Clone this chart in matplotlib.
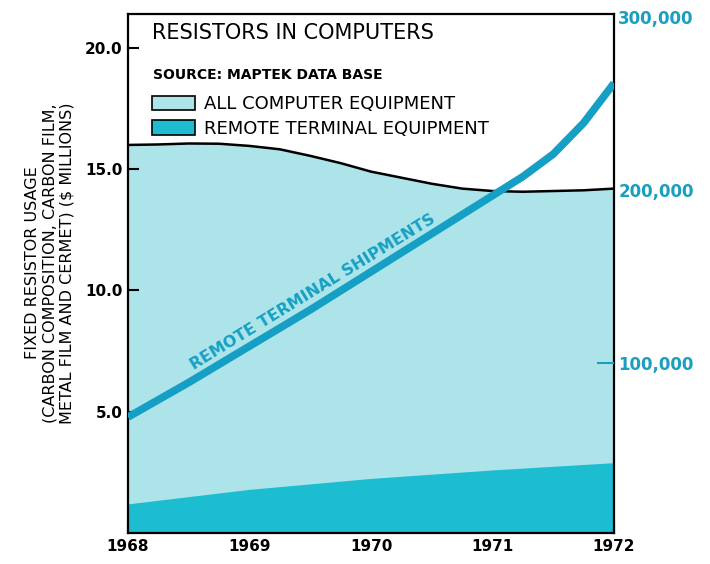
#필요한 라이브러리를 임포트합니다
import numpy as np
import matplotlib.pyplot as plt
from matplotlib.patches import Patch

########데이터#############################################################
# 전체 컴퓨터 장비의 고정 저항 사용량 ($ millions)
years_all = [1968, 1968.25, 1968.5, 1968.75, 1969, 1969.25, 1969.5, 1969.75,
             1970, 1970.25, 1970.5, 1970.75, 1971, 1971.25, 1971.5, 1971.75, 1972]
all_equipment = [16.0, 16.02, 16.06, 16.05, 15.96, 15.82, 15.55, 15.25,
                 14.9, 14.65, 14.4, 14.2, 14.1, 14.07, 14.1, 14.13, 14.2]

# 원격 단말 장비의 고정 저항 사용량 ($ millions)
years_remote = [1968, 1969, 1970, 1971, 1972]
remote_equipment = [1.2, 1.8, 2.25, 2.6, 2.9]

# 원격 단말 출하 대수 (오른쪽 축)
years_ship = [1968, 1968.5, 1969, 1969.5, 1970, 1970.5, 1971, 1971.25,
              1971.5, 1971.75, 1972]
shipments = [69000, 89000, 110000, 131000, 153000, 175000, 197000, 208000,
             221000, 239000, 262000]

year_ticks = [1968, 1969, 1970, 1971, 1972]
left_ticks = [5.0, 10.0, 15.0, 20.0]
right_ticks = [100000, 200000, 300000]
###########################################################################

light = '#ace4ea'
dark = '#1cbdd0'
line_color = '#169fc4'
label_cyan = '#1a9fc0'

fig = plt.figure(figsize=(7.1, 5.64), dpi=100)
ax = fig.add_axes([0.1803, 0.055, 0.6845, 0.9202])

# 면적 그래프: 전체 장비, 그 위에 원격 단말 장비
ax.fill_between(years_all, 0, all_equipment, color=light, lw=0, zorder=1)
ax.plot(years_all, all_equipment, color='black', lw=1.8, zorder=2)
ax.fill_between(years_remote, 0, remote_equipment, color=dark, lw=0, zorder=2)

ax.set_xlim(1968, 1972)
ax.set_ylim(0, 21.4)
ax.set_xticks(year_ticks)
ax.set_xticklabels([str(y) for y in year_ticks], fontsize=11, fontweight='bold')
ax.set_yticks(left_ticks)
ax.set_yticklabels(['%.1f' % v for v in left_ticks], fontsize=11, fontweight='bold')
ax.tick_params(axis='both', direction='in', length=8, width=1.5, pad=4, zorder=5)
for s in ax.spines.values():
    s.set_linewidth(1.6)
    s.set_zorder(6)

# 세 줄짜리 y축 레이블
ax.set_ylabel('FIXED RESISTOR USAGE\n(CARBON COMPOSITION, CARBON FILM,\n'
              'METAL FILM AND CERMET) ($ MILLIONS)',
              fontsize=11.5, linespacing=1.2)
ax.yaxis.label.set_va('center')
ax.yaxis.set_label_coords(-0.161, 0.52)

# 제목, 출처, 범례
ax.text(0.049, 0.963, 'RESISTORS IN COMPUTERS', transform=ax.transAxes,
        fontsize=15, va='center', ha='left')
ax.text(0.051, 0.882, 'SOURCE: MAPTEK DATA BASE', transform=ax.transAxes,
        fontsize=10, fontweight='bold', va='center', ha='left')
handles = [Patch(facecolor=light, edgecolor='black', lw=1.2, label='ALL COMPUTER EQUIPMENT'),
           Patch(facecolor=dark, edgecolor='black', lw=1.2, label='REMOTE TERMINAL EQUIPMENT')]
ax.legend(handles=handles, loc='upper left', bbox_to_anchor=(0.049, 0.843),
          frameon=False, fontsize=13, handlelength=2.4, handleheight=0.85,
          handletextpad=0.5, labelspacing=0.35, borderpad=0, borderaxespad=0)

# 오른쪽 축: 출하 대수 선 그래프
ax2 = ax.twinx()
ax2.set_position(ax.get_position())
ax2.plot(years_ship, shipments, color=line_color, lw=5.5, solid_capstyle='butt', zorder=4)
ax2.set_ylim(2000, 302000)
ax2.set_yticks(right_ticks)
ax2.set_yticklabels(['{:,}'.format(v) for v in right_ticks], fontsize=12,
                    fontweight='bold', color=label_cyan)
ax2.tick_params(axis='y', direction='in', length=12, width=1.5, color=label_cyan, pad=3)
# 200,000 / 300,000 눈금선은 그리지 않음
for t in ax2.yaxis.get_major_ticks()[1:]:
    t.tick2line.set_visible(False)
for s in ax2.spines.values():
    s.set_visible(False)

# 선을 따라 쓰는 라벨
p0 = ax2.transData.transform((1969, 110000))
p1 = ax2.transData.transform((1970, 153000))
angle = np.degrees(np.arctan2(p1[1] - p0[1], p1[0] - p0[0]))
off = 4.5
ax2.annotate('REMOTE TERMINAL SHIPMENTS', xy=(1969.58, 134500),
             xytext=(-off * np.sin(np.radians(angle)), off * np.cos(np.radians(angle))),
             textcoords='offset points', rotation=angle, rotation_mode='anchor',
             ha='center', va='bottom', fontsize=11.5, fontweight='bold', color=line_color)

fig.savefig('out.png', dpi=100)
